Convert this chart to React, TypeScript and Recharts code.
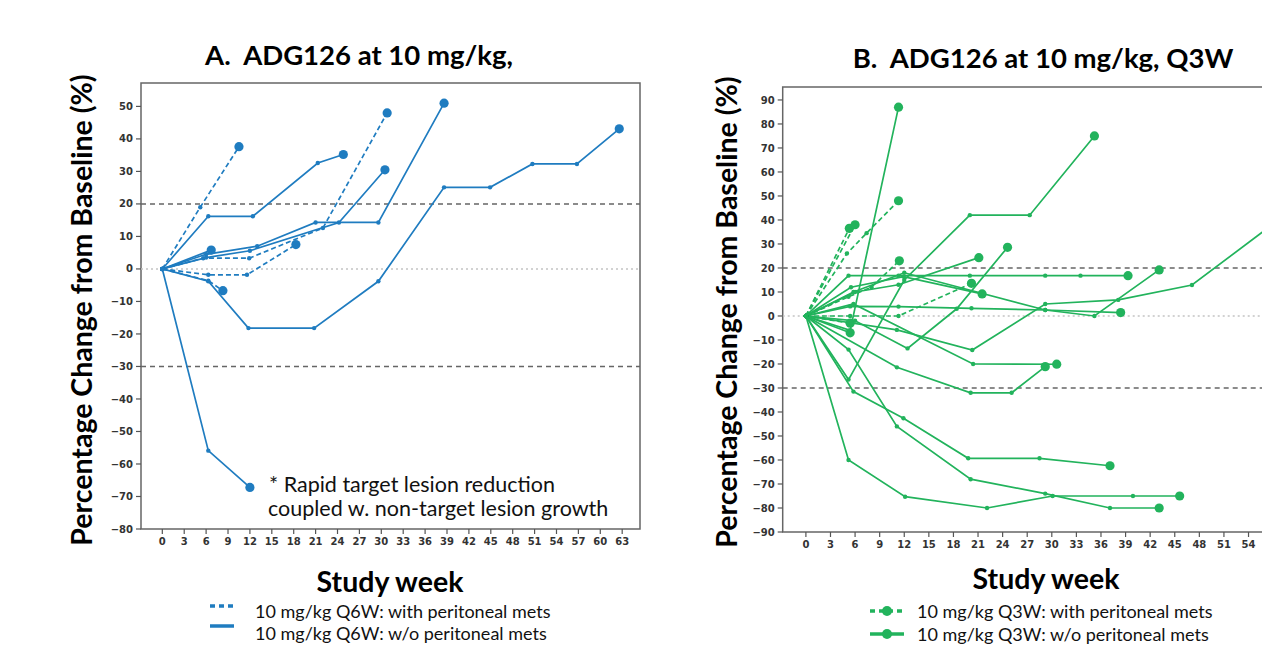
import { LineChart, Line, XAxis, YAxis, ReferenceLine, ReferenceArea } from 'recharts'

type Pt = [number, number]

// tick values
const xTicksA = [0, 3, 6, 9, 12, 15, 18, 21, 24, 27, 30, 33, 36, 39, 42, 45, 48, 51, 54, 57, 60, 63]
const yTicksA = [-80, -70, -60, -50, -40, -30, -20, -10, 0, 10, 20, 30, 40, 50]
const xTicksB = [0, 3, 6, 9, 12, 15, 18, 21, 24, 27, 30, 33, 36, 39, 42, 45, 48, 51, 54]
const yTicksB = [-90, -80, -70, -60, -50, -40, -30, -20, -10, 0, 10, 20, 30, 40, 50, 60, 70, 80, 90]

// A: 10 mg/kg Q6W, with peritoneal mets (dashed)
const aMets1: Pt[] = [[0, 0], [5.2, 19], [10.5, 37.6]]
const aMets2: Pt[] = [[0, 0], [5.6, 3.3], [11.9, 3.3], [22, 12.6], [30.8, 48]]
const aMets3: Pt[] = [[0, 0], [6.3, -1.8], [11.6, -1.8], [18.3, 7.5]]
const aMets4: Pt[] = [[0, 0], [6.3, -3.6], [8.3, -6.7]]
// A: w/o peritoneal mets (solid)
const aNo1: Pt[] = [[0, 0], [6.3, 16.2], [12.4, 16.2], [21.3, 32.6], [24.8, 35.2]]
const aNo2: Pt[] = [[0, 0], [6, 4.5], [13, 7], [21, 14.3], [29.6, 14.3], [38.6, 51]]
const aNo3: Pt[] = [[0, 0], [6, 3.5], [12, 5.6], [24.2, 14.3], [30.5, 30.5]]
const aNo4: Pt[] = [[0, 0], [6.7, 5.8]]
const aNo5: Pt[] = [[0, 0], [6.3, -3.8], [11.8, -18.2], [20.8, -18.2], [29.6, -3.8], [38.6, 25.1], [44.9, 25.1], [50.7, 32.3], [56.8, 32.3], [62.6, 43.1]]
const aNo6: Pt[] = [[0, 0], [6.3, -55.9], [12, -67.2]]

// B: 10 mg/kg Q3W, with peritoneal mets (dashed)
const bMets1: Pt[] = [[0, 0], [5.3, 36.5]]
const bMets2: Pt[] = [[0, 0], [6, 38]]
const bMets3: Pt[] = [[0, 0], [5, 26], [7.4, 34.5], [11.3, 48]]
const bMets4: Pt[] = [[0, 0], [5.2, 8], [8, 12], [11.4, 23]]
const bMets5: Pt[] = [[0, 0], [5.4, 0], [11.3, 0], [20.2, 13.6]]
const bMets6: Pt[] = [[0, 0], [5.4, -3]]
// B: w/o peritoneal mets (solid)
const bNo1: Pt[] = [[0, 0], [5.4, -6], [11.3, 87]]
const bNo2: Pt[] = [[0, 0], [5.2, -26.5], [12, 15], [20, 42], [27.3, 42], [35.2, 75]]
const bNo3: Pt[] = [[0, 0], [5.2, 16.8], [11.3, 16.8], [20, 16.8], [29.2, 16.8], [33.5, 16.8], [39.3, 16.8]]
const bNo4: Pt[] = [[0, 0], [6, 10], [11.3, 13], [21.1, 24.3]]
const bNo5: Pt[] = [[0, 0], [6, -2], [12.4, -13.5], [18.4, 3], [24.6, 28.6]]
const bNo6: Pt[] = [[0, 0], [5.2, -14], [11.1, -46], [20.1, -68], [29.2, -74], [37.1, -80], [43.1, -80]]
const bNo7: Pt[] = [[0, 0], [5.8, -31.5], [11.9, -42.6], [19.8, -59.3], [28.5, -59.3], [37.1, -62.4]]
const bNo8: Pt[] = [[0, 0], [5.2, -60], [12.1, -75.3], [22.1, -80], [30.1, -75], [39.9, -75], [45.6, -75]]
const bNo9: Pt[] = [[0, 0], [11.1, -21.4], [20.1, -32], [25.1, -32], [29.2, -21.1]]
const bNo10: Pt[] = [[0, 0], [5.8, 5], [20.4, -20], [30.6, -20.1]]
const bNo11: Pt[] = [[0, 0], [11.1, -5.8], [20.3, -14.2], [29.2, 5], [38.1, 6.7], [47.1, 12.9], [60, 46]]
const bNo12: Pt[] = [[0, 0], [5.4, 4], [11.3, 3.9], [20.2, 3.2], [29.2, 2.5], [38.4, 1.4]]
const bNo13: Pt[] = [[0, 0], [5.8, 10], [12, 18], [29.2, 2.5], [35.2, 0], [43.1, 19.2]]
const bNo14: Pt[] = [[0, 0], [5.4, -7]]
const bNo15: Pt[] = [[0, 0], [5.5, 12], [11.9, 16.4], [21.5, 9.2]]

const BLUE = '#1f7cc0'
const GREEN = '#22b35c'

interface Series {
  pts: Pt[]
  dashed: boolean
}

const seriesA: Series[] = [
  ...[aMets1, aMets2, aMets3, aMets4].map((pts) => ({ pts, dashed: true })),
  ...[aNo1, aNo2, aNo3, aNo4, aNo5, aNo6].map((pts) => ({ pts, dashed: false })),
]
const seriesB: Series[] = [
  ...[bMets1, bMets2, bMets3, bMets4, bMets5, bMets6].map((pts) => ({ pts, dashed: true })),
  ...[bNo1, bNo2, bNo3, bNo4, bNo5, bNo6, bNo7, bNo8, bNo9, bNo10, bNo11, bNo12, bNo13, bNo14, bNo15].map((pts) => ({ pts, dashed: false })),
]

const fmt = (v: number) => (v < 0 ? `\u2212${Math.abs(v)}` : `${v}`)

const tickStyle = { fontSize: 10, fontWeight: 700, fill: '#333', fontFamily: 'DejaVu Sans' }

function makeDot(n: number, color: string) {
  return (props: any) => {
    const { cx, cy, index } = props
    if (cx == null || cy == null) return <g key={`d${index}`} />
    const last = index === n - 1
    return <circle key={`d${index}`} cx={cx} cy={cy} r={last ? 4.6 : 2.2} fill={color} stroke="none" />
  }
}

interface PanelProps {
  left: number
  width: number
  margin: { top: number; right: number; bottom: number; left: number }
  xDomain: [number, number]
  yDomain: [number, number]
  xTicks: number[]
  yTicks: number[]
  series: Series[]
  color: string
}

function Panel({ left, width, margin, xDomain, yDomain, xTicks, yTicks, series, color }: PanelProps) {
  return (
    <div style={{ position: 'absolute', left, top: 0 }}>
      <LineChart width={width} height={663} margin={margin}>
        <XAxis
          type="number"
          dataKey="w"
          domain={xDomain}
          ticks={xTicks}
          interval={0}
          allowDataOverflow
          axisLine={false}
          tickLine={{ stroke: '#555', strokeWidth: 1.2 }}
          tickSize={5}
          tickMargin={4}
          tick={tickStyle}
          height={30}
        />
        <YAxis
          type="number"
          domain={yDomain}
          ticks={yTicks}
          interval={0}
          allowDataOverflow
          axisLine={false}
          tickLine={{ stroke: '#555', strokeWidth: 1.2 }}
          tickSize={5}
          tickMargin={3}
          tick={tickStyle}
          tickFormatter={fmt}
          width={40}
        />
        <ReferenceArea x1={xDomain[0]} x2={xDomain[1]} y1={yDomain[0]} y2={yDomain[1]} fill="none" stroke="#666" strokeWidth={1.5} />
        <ReferenceLine y={20} stroke="#666" strokeWidth={1.5} strokeDasharray="5 4" />
        <ReferenceLine y={-30} stroke="#666" strokeWidth={1.5} strokeDasharray="5 4" />
        <ReferenceLine y={0} stroke="#c4c4c4" strokeWidth={1.5} strokeDasharray="2 3" />
        {series.map((s, i) => (
          <Line
            key={i}
            data={s.pts.map(([w, v]) => ({ w, v }))}
            dataKey="v"
            type="linear"
            stroke={color}
            strokeWidth={1.7}
            strokeDasharray={s.dashed ? '5 3' : undefined}
            dot={makeDot(s.pts.length, color)}
            activeDot={false}
            isAnimationActive={false}
          />
        ))}
      </LineChart>
    </div>
  )
}

const label = (x: number, y: number, size: number, bold: boolean, rotate = false): React.CSSProperties => ({
  position: 'absolute',
  left: x,
  top: y,
  transform: `translate(-50%, -50%)${rotate ? ' rotate(-90deg)' : ''}`,
  whiteSpace: 'nowrap',
  fontFamily: 'Lato, "Open Sans", sans-serif',
  fontWeight: bold ? 700 : 400,
  fontSize: size,
  lineHeight: 1,
  color: '#000',
})

const legendText: React.CSSProperties = {
  position: 'absolute',
  whiteSpace: 'nowrap',
  fontFamily: 'Lato, "Open Sans", sans-serif',
  fontSize: 18,
  lineHeight: 1,
  color: '#111',
}

export default function App() {
  return (
    <div style={{ position: 'fixed', left: 0, top: 0, width: 1262, height: 663, overflow: 'hidden', background: '#fff' }}>
      <Panel
        left={0}
        width={660}
        margin={{ top: 83, right: 20, bottom: 104, left: 101 }}
        xDomain={[-2.92, 65.44]}
        yDomain={[-80, 57.2]}
        xTicks={xTicksA}
        yTicks={yTicksA}
        series={seriesA}
        color={BLUE}
      />
      <Panel
        left={680}
        width={700}
        margin={{ top: 87, right: 0, bottom: 101, left: 62.7 }}
        xDomain={[-2.83, 70.04]}
        yDomain={[-90, 95.4]}
        xTicks={xTicksB}
        yTicks={yTicksB}
        series={seriesB}
        color={GREEN}
      />

      <div style={label(359, 55, 27.5, true)}>A.&nbsp; ADG126 at 10 mg/kg,</div>
      <div style={label(1043, 58, 27.5, true)}>B.&nbsp; ADG126 at 10 mg/kg, Q3W</div>

      <div style={label(81, 310, 28.5, true, true)}>Percentage Change from Baseline (%)</div>
      <div style={label(726, 312, 28.5, true, true)}>Percentage Change from Baseline (%)</div>

      <div style={label(390, 581, 28.5, true)}>Study week</div>
      <div style={label(1046, 578, 28.5, true)}>Study week</div>

      <div style={{ ...legendText, fontSize: 21.5, left: 269, top: 474 }}>* Rapid target lesion reduction</div>
      <div style={{ ...legendText, fontSize: 21.5, left: 268, top: 498 }}>coupled w. non-target lesion growth</div>

      <svg style={{ position: 'absolute', left: 200, top: 596 }} width={40} height={40}>
        <line x1={10} y1={10} x2={34} y2={10} stroke={BLUE} strokeWidth={3.5} strokeDasharray="5 4" />
        <line x1={10} y1={30} x2={34} y2={30} stroke={BLUE} strokeWidth={3.5} />
      </svg>
      <div style={{ ...legendText, left: 255, top: 602 }}>10 mg/kg Q6W: with peritoneal mets</div>
      <div style={{ ...legendText, left: 255, top: 624 }}>10 mg/kg Q6W: w/o peritoneal mets</div>

      <svg style={{ position: 'absolute', left: 860, top: 600 }} width={50} height={44}>
        <line x1={10} y1={11} x2={44} y2={11} stroke={GREEN} strokeWidth={3.5} strokeDasharray="5 4" />
        <circle cx={27} cy={11} r={5} fill={GREEN} />
        <line x1={10} y1={34} x2={44} y2={34} stroke={GREEN} strokeWidth={3.5} />
        <circle cx={27} cy={34} r={5} fill={GREEN} />
      </svg>
      <div style={{ ...legendText, left: 917, top: 602 }}>10 mg/kg Q3W: with peritoneal mets</div>
      <div style={{ ...legendText, left: 917, top: 625 }}>10 mg/kg Q3W: w/o peritoneal mets</div>
    </div>
  )
}
